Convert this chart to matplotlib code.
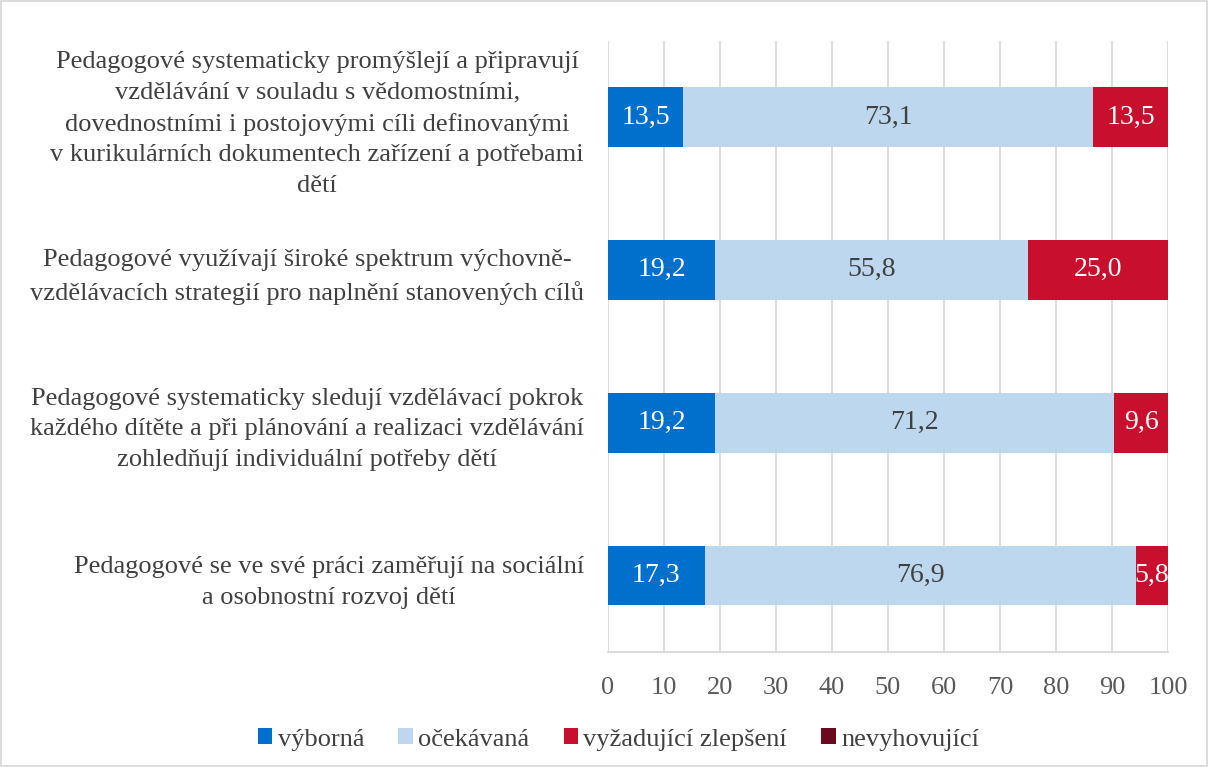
import matplotlib
matplotlib.use("Agg")
import matplotlib.pyplot as plt
import numpy as np
from matplotlib.patches import Rectangle

# data (top to bottom as shown)
categories = [
    "Pedagogové systematicky promýšlejí a připravují\nvzdělávání v souladu s vědomostními,\ndovednostními i postojovými cíli definovanými\nv kurikulárních dokumentech zařízení a potřebami\ndětí",
    "Pedagogové využívají široké spektrum výchovně-\nvzdělávacích strategií pro naplnění stanovených cílů",
    "Pedagogové systematicky sledují vzdělávací pokrok\nkaždého dítěte a při plánování a realizaci vzdělávání\nzohledňují individuální potřeby dětí",
    "Pedagogové se ve své práci zaměřují na sociální\na osobnostní rozvoj dětí",
]
series_names = ["výborná", "očekávaná", "vyžadující zlepšení", "nevyhovující"]
vyborna = [13.5, 19.2, 19.2, 17.3]
ocekavana = [73.1, 55.8, 71.2, 76.9]
zlepseni = [13.5, 25.0, 9.6, 5.8]
nevyhovujici = [0, 0, 0, 0]

colors = ["#0070CC", "#BDD7EE", "#C8102E", "#6B0A1E"]
label_colors = ["white", "#404040", "white", "white"]

plt.rcParams["font.family"] = ["Liberation Serif", "DejaVu Serif"]

fig = plt.figure(figsize=(12.08, 7.67), dpi=100)
ax = fig.add_axes([0.503, 0.150, 0.464, 0.797])

y = np.arange(len(categories))[::-1]
left = np.zeros(len(categories))
for vals, name, col, lc in zip([vyborna, ocekavana, zlepseni, nevyhovujici],
                               series_names, colors, label_colors):
    vals = np.array(vals)
    bars = ax.barh(y, vals, left=left, height=0.39, color=col, label=name, zorder=3)
    for b, v in zip(bars, vals):
        if v > 0:
            ax.text(b.get_x() + b.get_width() / 2, b.get_y() + b.get_height() / 2,
                    f"{v:.1f}".replace(".", ","), ha="center", va="center",
                    color=lc, fontsize=20, zorder=4)
    left += vals

ax.set_xlim(0, 100)
ax.set_ylim(-0.5, len(categories) - 0.5)
ax.set_xticks(range(0, 101, 10))
ax.set_yticks(y)
ax.set_yticklabels(categories, multialignment="center", fontsize=19, color="#404040",
                   linespacing=1.5)
ax.tick_params(axis="x", length=0, labelsize=19, labelcolor="#595959", pad=18)
ax.tick_params(axis="y", length=0, pad=17)
ax.grid(axis="x", color="#D9D9D9", linewidth=1.3, zorder=0)
for s in ["top", "right", "left"]:
    ax.spines[s].set_visible(False)
ax.spines["bottom"].set_color("#D9D9D9")
ax.spines["bottom"].set_linewidth(1.3)

leg = fig.legend(loc="center", bbox_to_anchor=(0.512, 0.036), ncol=4, frameon=False,
                 fontsize=19, handlelength=0.55, handleheight=0.55, handletextpad=0.2,
                 columnspacing=1.3, labelcolor="#404040")

fig.patches.append(Rectangle((0.001, 0.001), 0.998, 0.998, transform=fig.transFigure,
                             fill=False, edgecolor="#D9D9D9", linewidth=1.3))

fig.savefig("out.png", dpi=100, facecolor="white")
